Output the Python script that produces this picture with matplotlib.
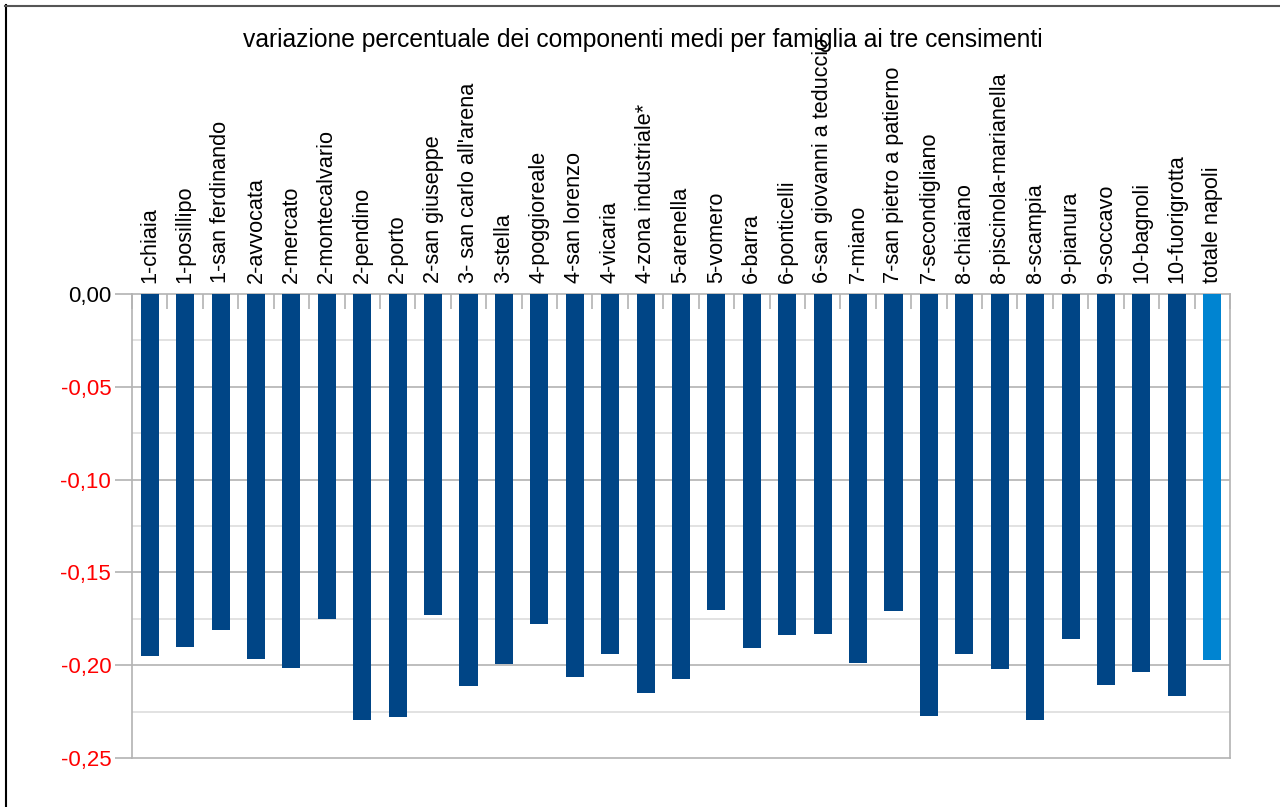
import matplotlib
matplotlib.use("Agg")
import matplotlib.pyplot as plt
from matplotlib.lines import Line2D
import numpy as np

categories = [
    "1-chiaia", "1-posillipo", "1-san ferdinando", "2-avvocata", "2-mercato",
    "2-montecalvario", "2-pendino", "2-porto", "2-san giuseppe", "3- san carlo all'arena",
    "3-stella", "4-poggioreale", "4-san lorenzo", "4-vicaria", "4-zona industriale*",
    "5-arenella", "5-vomero", "6-barra", "6-ponticelli", "6-san giovanni a teduccio",
    "7-miano", "7-san pietro a patierno", "7-secondigliano", "8-chiaiano", "8-piscinola-marianella",
    "8-scampia", "9-pianura", "9-soccavo", "10-bagnoli", "10-fuorigrotta", "totale napoli",
]
values = [
    -0.1949, -0.1900, -0.1808, -0.1965, -0.2013,
    -0.1751, -0.2293, -0.2277, -0.1728, -0.2110,
    -0.1992, -0.1776, -0.2062, -0.1938, -0.2148,
    -0.2073, -0.1701, -0.1906, -0.1836, -0.1830,
    -0.1987, -0.1706, -0.2272, -0.1938, -0.2019,
    -0.2293, -0.1857, -0.2105, -0.2035, -0.2164, -0.1970,
]
y_ticks = [0.0, -0.05, -0.10, -0.15, -0.20, -0.25]
y_tick_labels = ["0,00", "-0,05", "-0,10", "-0,15", "-0,20", "-0,25"]
title = "variazione percentuale dei componenti medi per famiglia ai tre censimenti"

plt.rcParams['font.family'] = ['Liberation Sans', 'DejaVu Sans']

W, H = 1280, 807
fig = plt.figure(figsize=(W / 100, H / 100), dpi=100)
fig.patch.set_facecolor("white")
ax = fig.add_axes([132 / W, 1 - 758 / H, (1230 - 132) / W, (758 - 294) / H])

n = len(categories)
x = np.arange(n)
colors = ["#004586"] * (n - 1) + ["#0084d1"]
ax.bar(x, values, width=0.51, color=colors, zorder=3)

ax.set_xlim(-0.5, n - 0.5)
ax.set_ylim(-0.25, 0.0)

# gridlines
for v in np.arange(-0.225, 0.0, 0.025):
    major = abs((v / 0.05) - round(v / 0.05)) < 1e-6
    ax.axhline(v, color="#b3b3b3" if major else "#dddddd", lw=1.2, zorder=1)

for s in ax.spines.values():
    s.set_color("#b3b3b3")
    s.set_linewidth(1.2)

ax.set_yticks(y_ticks)
ax.set_yticklabels(y_tick_labels, fontsize=16)
for lbl, t in zip(ax.get_yticklabels(), y_ticks):
    lbl.set_color("black" if t == 0 else "red")
ax.tick_params(axis="y", length=12, width=1.2, color="#b3b3b3", pad=3)

# category boundary ticks on top axis, inward
ax.set_xticks(np.arange(-0.5, n, 1.0), minor=True)
ax.set_xticks([])
ax.tick_params(axis="x", which="minor", direction="in", length=11, width=1.2,
               color="#b3b3b3", top=True, bottom=False, labelbottom=False)

# category labels above axis
for i, c in enumerate(categories):
    ax.annotate(c, xy=(i, 0.0), xycoords="data", xytext=(0, 8),
                textcoords="offset points", rotation=90, ha="center", va="bottom",
                fontsize=15.6, color="black", annotation_clip=False)

fig.text(0.5 * (240 + 1045) / W, 1 - 40 / H, title, ha="center", va="center",
         fontsize=17.7, color="black")

# figure border lines
fig.add_artist(Line2D([5.5 / W, 5.5 / W], [0, 1 - 5 / H], color="black", lw=1.5,
                      transform=fig.transFigure))
fig.add_artist(Line2D([5 / W, 1], [1 - 5.5 / H, 1 - 5.5 / H], color="#555555", lw=1.5,
                      transform=fig.transFigure))

fig.savefig("out.png", dpi=100)
